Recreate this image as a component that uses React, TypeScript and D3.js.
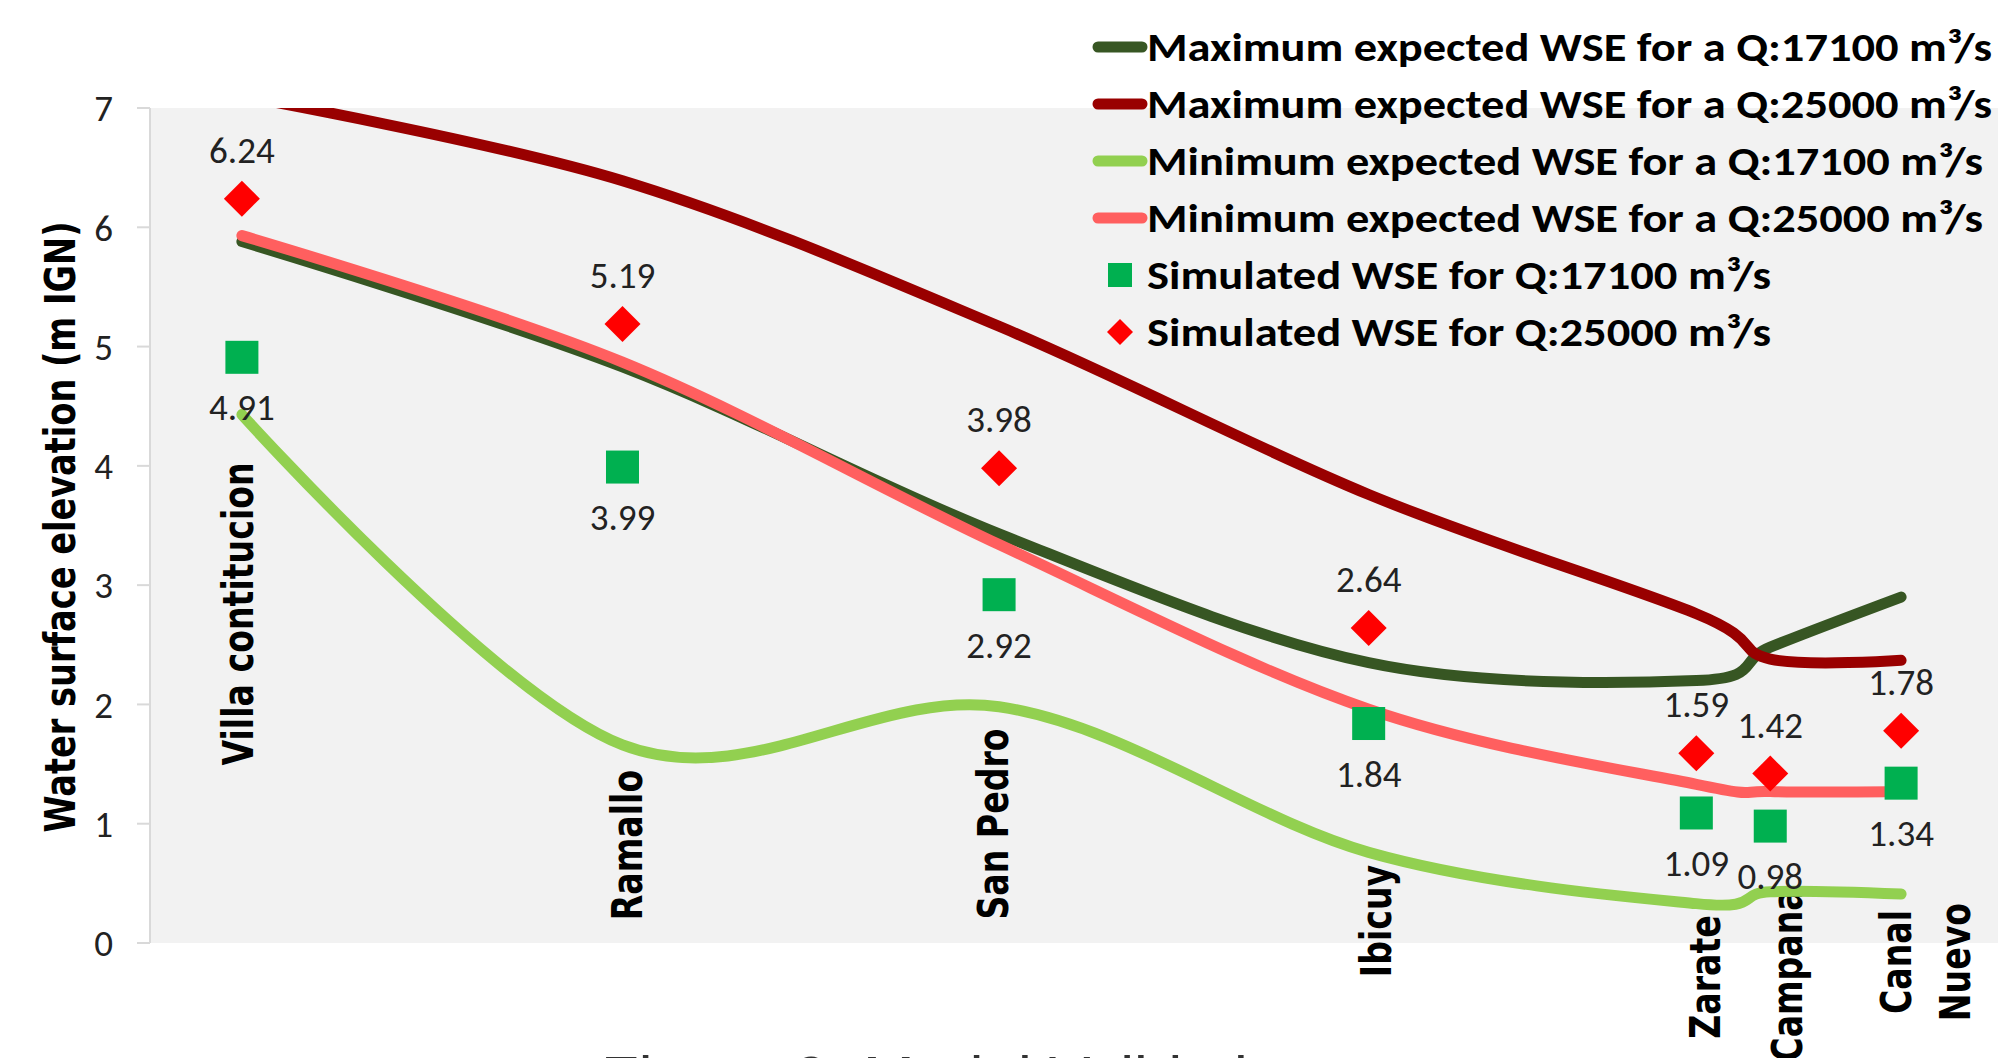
import * as d3 from "d3";

// ---- data -------------------------------------------------------------
const stations = [
  "Villa contitucion",
  "Ramallo",
  "San Pedro",
  "Ibicuy",
  "Zarate",
  "Campana",
  "Canal Nuevo",
];
// position of each station along the reach (km)
const stationKm = [9.2, 47.3, 85, 122, 154.8, 162.2, 175.3];

const maxQ17100 = [5.88, 4.83, 3.43, 2.35, 2.2, 2.48, 2.9];
const maxQ25000 = [7.1, 6.39, 5.17, 3.76, 2.76, 2.38, 2.37];
const minQ17100 = [4.43, 1.66, 1.98, 0.76, 0.33, 0.43, 0.41];
const minQ25000 = [5.93, 4.87, 3.34, 1.96, 1.33, 1.27, 1.27];
const simQ17100 = [4.91, 3.99, 2.92, 1.84, 1.09, 0.98, 1.34];
const simQ25000 = [6.24, 5.19, 3.98, 2.64, 1.59, 1.42, 1.78];

const yTicks = [0, 1, 2, 3, 4, 5, 6, 7];

const lineSeries = [
  { name: "Maximum expected WSE for a Q:17100 m³/s", color: "#375623", data: maxQ17100 },
  { name: "Maximum expected WSE for a Q:25000 m³/s", color: "#990000", data: maxQ25000 },
  { name: "Minimum expected WSE for a Q:17100 m³/s", color: "#92D050", data: minQ17100 },
  { name: "Minimum expected WSE for a Q:25000 m³/s", color: "#FF5F5F", data: minQ25000 },
];
const pointSeries = [
  "Simulated WSE for Q:17100 m³/s",
  "Simulated WSE for Q:25000 m³/s",
];

// ---- layout -----------------------------------------------------------
const W = 1998;
const H = 1058;
const PLOT = { left: 150, right: 1998, top: 108, bottom: 943 };
const LINE_W = 11;
const SQUARE = 33;
const DIAMOND = 18; // half diagonal
const LABEL_FONT = "Carlito, Calibri, Lato, sans-serif";
const BOLD_FONT = "'DejaVu Sans', Verdana, sans-serif";

// station name labels: x shift from station, centre y, (rotated text)
const NAME_LAYOUT = [
  { dx: -4, cy: 614 },
  { dx: 5, cy: 845 },
  { dx: -6, cy: 824 },
  { dx: 7, cy: 921 },
  { dx: 9, cy: 977 },
  { dx: 17, cy: 975 },
  { dx: -5, cy: 962 },
];

const LEGEND = {
  lineX1: 1098,
  lineX2: 1142,
  markX: 1120,
  textX: 1147,
  top: 47,
  row: 57,
  // rendered text widths in the reference
  lineTextW: [845, 845, 836, 836],
  pointTextW: [624, 624],
};

export default function App() {
  const x = d3.scaleLinear().domain([0, 185]).range([PLOT.left, PLOT.right]);
  const y = d3.scaleLinear().domain([0, 7]).range([PLOT.bottom, PLOT.top]);

  const line = d3
    .line<number>()
    .x((_, i) => x(stationKm[i]))
    .y((d) => y(d))
    .curve(d3.curveCardinal.tension(0));

  const diamond = (cx: number, cy: number, r: number) =>
    `M${cx},${cy - r}L${cx + r},${cy}L${cx},${cy + r}L${cx - r},${cy}Z`;

  return (
    <svg
      width={W}
      height={H}
      style={{ position: "fixed", left: 0, top: 0, background: "#fff" }}
      xmlns="http://www.w3.org/2000/svg"
    >
      <defs>
        <clipPath id="plot-clip">
          <rect
            x={PLOT.left}
            y={PLOT.top}
            width={PLOT.right - PLOT.left}
            height={PLOT.bottom - PLOT.top}
          />
        </clipPath>
      </defs>

      <rect
        x={PLOT.left}
        y={PLOT.top}
        width={PLOT.right - PLOT.left}
        height={PLOT.bottom - PLOT.top}
        fill="#F2F2F2"
      />

      {/* y axis */}
      <g className="y-axis">
        <line x1={PLOT.left} y1={PLOT.top} x2={PLOT.left} y2={PLOT.bottom} stroke="#D9D9D9" strokeWidth={2} />
        {yTicks.map((t) => (
          <g key={t}>
            <line x1={PLOT.left - 13} x2={PLOT.left} y1={y(t)} y2={y(t)} stroke="#D9D9D9" strokeWidth={2} />
            <text
              x={113}
              y={y(t)}
              dy="0.36em"
              textAnchor="end"
              fontSize={37}
              fontFamily={LABEL_FONT}
              fill="#222"
            >
              {t}
            </text>
          </g>
        ))}
      </g>

      <text
        transform={`translate(75,527) rotate(-90) scale(0.8,1)`}
        textAnchor="middle"
        fontSize={42}
        fontWeight="bold"
        fontFamily={BOLD_FONT}
        fill="#000"
      >
        Water surface elevation (m IGN)
      </text>

      {/* station names */}
      {stations.map((s, i) => {
        const parts = s === "Canal Nuevo" ? ["Canal", "Nuevo"] : [s];
        return parts.map((p, j) => (
          <text
            key={s + j}
            transform={`translate(${x(stationKm[i]) + NAME_LAYOUT[i].dx + 15 + j * 59},${NAME_LAYOUT[i].cy}) rotate(-90) scale(0.79,1)`}
            textAnchor="middle"
            fontSize={42}
            fontWeight="bold"
            fontFamily={BOLD_FONT}
            fill="#000"
          >
            {p}
          </text>
        ));
      })}

      {/* expected WSE lines */}
      <g clipPath="url(#plot-clip)">
        {lineSeries.map((s) => (
          <path
            key={s.name}
            d={line(s.data) ?? undefined}
            fill="none"
            stroke={s.color}
            strokeWidth={LINE_W}
            strokeLinecap="round"
          />
        ))}
      </g>

      {/* simulated points */}
      {simQ17100.map((v, i) => (
        <g key={"sq" + i}>
          <rect
            x={x(stationKm[i]) - SQUARE / 2}
            y={y(v) - SQUARE / 2}
            width={SQUARE}
            height={SQUARE}
            fill="#00B050"
          />
          <text
            x={x(stationKm[i])}
            y={y(v) + 63}
            textAnchor="middle"
            fontSize={37}
            fontFamily={LABEL_FONT}
            fill="#222"
          >
            {v.toFixed(2)}
          </text>
        </g>
      ))}
      {simQ25000.map((v, i) => (
        <g key={"dm" + i}>
          <path d={diamond(x(stationKm[i]), y(v), DIAMOND)} fill="#FF0000" />
          <text
            x={x(stationKm[i])}
            y={y(v) - 36}
            textAnchor="middle"
            fontSize={37}
            fontFamily={LABEL_FONT}
            fill="#222"
          >
            {v.toFixed(2)}
          </text>
        </g>
      ))}

      {/* legend */}
      <g className="legend" fontFamily={LABEL_FONT} fontWeight="bold" fontSize={40} fill="#000">
        {lineSeries.map((s, i) => {
          const cy = LEGEND.top + i * LEGEND.row;
          return (
            <g key={s.name}>
              <line
                x1={LEGEND.lineX1}
                x2={LEGEND.lineX2}
                y1={cy}
                y2={cy}
                stroke={s.color}
                strokeWidth={LINE_W}
                strokeLinecap="round"
              />
              <text
                x={LEGEND.textX}
                y={cy + 14}
                textLength={LEGEND.lineTextW[i]}
                lengthAdjust="spacingAndGlyphs"
              >
                {s.name}
              </text>
            </g>
          );
        })}
        {pointSeries.map((name, j) => {
          const cy = LEGEND.top + (4 + j) * LEGEND.row;
          return (
            <g key={name}>
              {j === 0 ? (
                <rect x={LEGEND.markX - 12} y={cy - 12} width={24} height={24} fill="#00B050" />
              ) : (
                <path d={diamond(LEGEND.markX, cy, 13)} fill="#FF0000" />
              )}
              <text
                x={LEGEND.textX}
                y={cy + 14}
                textLength={LEGEND.pointTextW[j]}
                lengthAdjust="spacingAndGlyphs"
              >
                {name}
              </text>
            </g>
          );
        })}
      </g>

      {/* caption, cut off by the picture edge */}
      <text
        x={601}
        y={1099}
        fontSize={62}
        fontFamily="'Liberation Sans', Arial, sans-serif"
        fill="#333"
      >
        Figure 9: Model Validation
      </text>
    </svg>
  );
}
